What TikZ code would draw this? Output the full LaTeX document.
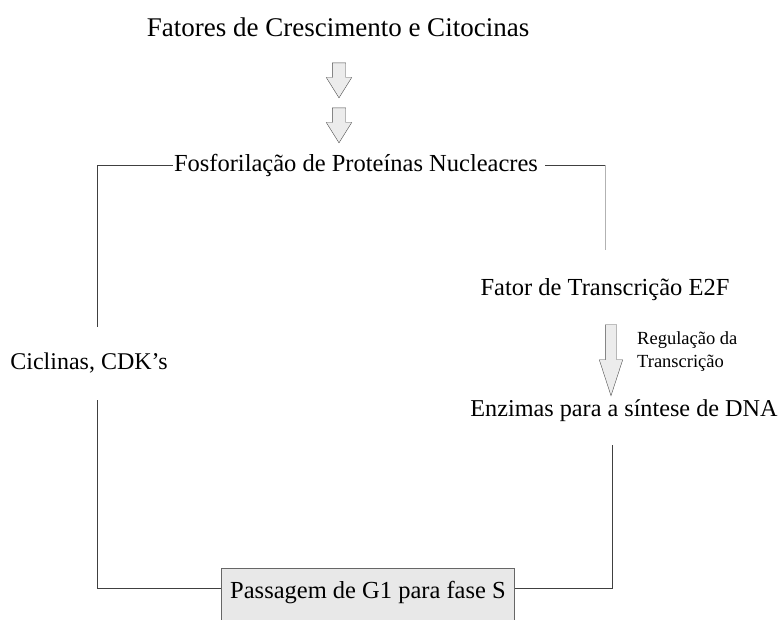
\documentclass[tikz,border=0pt]{standalone}
\usepackage{fontspec}
\setmainfont{Liberation Serif}
\usetikzlibrary{shapes.arrows}

\begin{document}
\begin{tikzpicture}[x=1pt,y=-1pt,
  label/.style={font=\fontsize{24.5}{28}\selectfont, inner sep=1pt},
  small/.style={font=\fontsize{18.5}{23}\selectfont, align=left, inner sep=0pt},
  blockarrow/.style={single arrow, draw=black!70, fill=gray!15, rotate=-90, inner xsep=0pt, inner ysep=6.5pt, single arrow head indent=0pt},
  link/.style={draw=black!75, line width=1pt}]
\useasboundingbox (0,0) rectangle (782,619);
\node[label, font=\fontsize{27}{30}\selectfont] (fatores) at (338,27) {Fatores de Crescimento e Citocinas};
\node[blockarrow, minimum height=35pt, single arrow head extend=6pt, single arrow tip angle=64] (seta1) at (339,75) {};
\node[blockarrow, minimum height=35pt, single arrow head extend=6pt, single arrow tip angle=64] (seta2) at (339,120) {};
\node[label] (fosf) at (356,165) {Fosforilação de Proteínas Nucleacres};
\node[label] (e2f) at (605,290) {Fator de Transcrição E2F};
\node[blockarrow, minimum height=71pt, inner ysep=5.5pt, single arrow head extend=6pt, single arrow tip angle=36] (seta3) at (611,351.5) {};
\node[small, anchor=west] (regul) at (637,352) {Regulação da\\Transcrição};
\node[label, font=\fontsize{24}{28}\selectfont] (ciclinas) at (89,363) {Ciclinas, CDK's};
\node[label, font=\fontsize{24.2}{28}\selectfont] (enzimas) at (624,411) {Enzimas para a síntese de DNA};
\node[label, draw=black!60, fill=gray!18, minimum width=293pt, minimum height=58pt, inner sep=4pt] (passagem) at (368,597) {};
\node[label] (passtxt) at (368,593) {Passagem de G1 para fase S};
\coordinate (cl1) at (97,327);
\coordinate (cl2) at (97,400);
\coordinate (cr1) at (605,250);
\coordinate (cr2) at (612,445);
\draw[link] (fosf.west) -| (cl1);
\draw[link] ([xshift=6pt]fosf.east) -- (605,165);
\draw[draw=black!30, line width=0.8pt] (605,165) -- (cr1);
\draw[link] (cl2) |- (passagem.west |- 0,588);
\draw[link] (cr2) |- (passagem.east |- 0,588);
\end{tikzpicture}
\end{document}
